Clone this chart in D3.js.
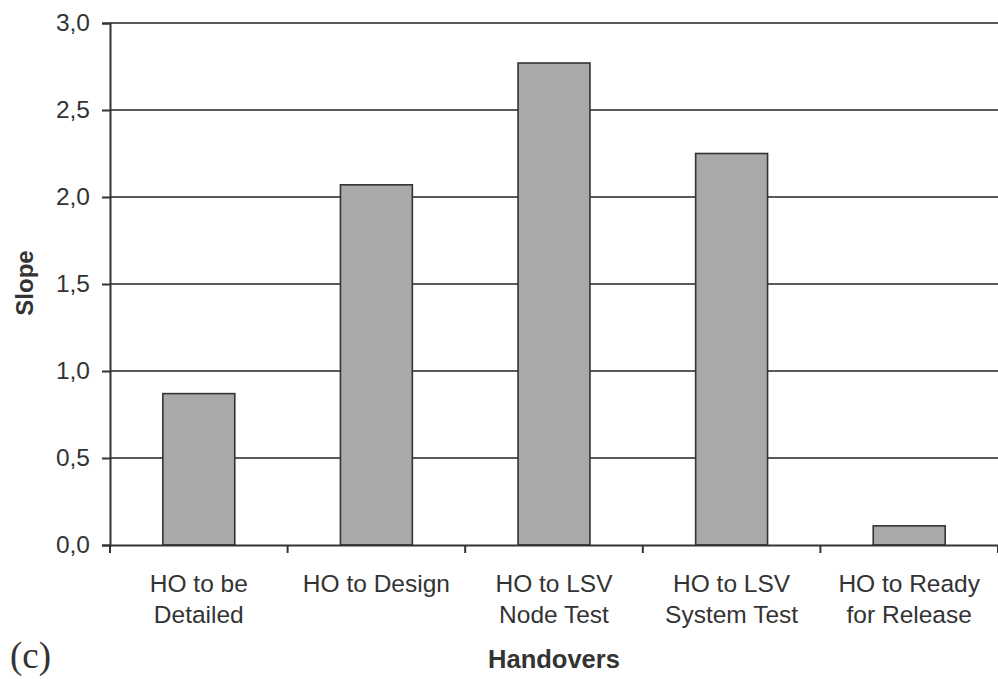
<!DOCTYPE html>
<html lang="en">
<head>
<meta charset="UTF-8">
<title>Slope by handover</title>
<script src="https://cdn.jsdelivr.net/npm/d3@7"></script>
<style>
  html, body { margin: 0; padding: 0; background: #fff; }
  svg { display: block; font-family: "Liberation Sans", Arial, sans-serif; }
</style>
</head>
<body>
<svg id="chart" width="998" height="679"></svg>
<script>
// data
const categories = [
  ["HO to be", "Detailed"],
  ["HO to Design"],
  ["HO to LSV", "Node Test"],
  ["HO to LSV", "System Test"],
  ["HO to Ready", "for Release"]
]
const slopes = [0.87, 2.07, 2.77, 2.25, 0.11]
const yTicks = [0, 0.5, 1.0, 1.5, 2.0, 2.5, 3.0]

const svg = d3.select('#chart')
const m = { left: 110, right: 998, top: 23, bottom: 545 }
const fontSize = 24.5

const keys = categories.map((c, i) => i)
const x = d3.scaleBand().domain(keys).range([m.left, m.right]).padding(0)
const y = d3.scaleLinear().domain([0, 3]).range([m.bottom, m.top])
const barW = x.bandwidth() * 0.405

// grid lines
svg.append('g')
  .selectAll('line')
  .data(yTicks.filter(d => d > 0))
  .join('line')
  .attr('x1', m.left).attr('x2', m.right)
  .attr('y1', d => y(d)).attr('y2', d => y(d))
  .attr('stroke', '#5a5a5a')
  .attr('stroke-width', 2)

// bars
svg.append('g')
  .selectAll('rect')
  .data(slopes)
  .join('rect')
  .attr('x', (d, i) => x(i) + (x.bandwidth() - barW) / 2)
  .attr('y', d => y(d))
  .attr('width', barW)
  .attr('height', d => y(0) - y(d))
  .attr('fill', '#a7a9aa')
  .attr('stroke', '#333')
  .attr('stroke-width', 1.6)

// y axis
const yAxis = svg.append('g')
  .attr('transform', `translate(${m.left},0)`)
  .call(d3.axisLeft(y).tickValues(yTicks).tickSize(8).tickPadding(12)
    .tickFormat(d => d3.format('.1f')(d).replace('.', ',')))
yAxis.select('.domain').attr('stroke', '#333').attr('stroke-width', 2)
yAxis.selectAll('.tick line').attr('stroke', '#333').attr('stroke-width', 2)
yAxis.selectAll('.tick text')
  .attr('font-size', fontSize).attr('fill', '#333')
  .attr('font-family', '"Liberation Sans", Arial, sans-serif')

// x axis
const xAxis = svg.append('g')
  .attr('transform', `translate(0,${m.bottom})`)
  .call(d3.axisBottom(x).tickSize(0).tickFormat(''))
xAxis.select('.domain').attr('stroke', '#333').attr('stroke-width', 2)
xAxis.selectAll('.tick').remove()

// x tick marks at band boundaries
const bounds = keys.map(k => x(k)).concat([m.right])
xAxis.append('g')
  .selectAll('line')
  .data(bounds)
  .join('line')
  .attr('x1', d => d).attr('x2', d => d)
  .attr('y1', 0).attr('y2', 8)
  .attr('stroke', '#333').attr('stroke-width', 2)

// category labels
const lab = svg.append('g')
  .selectAll('text')
  .data(categories)
  .join('text')
  .attr('text-anchor', 'middle')
  .attr('font-size', fontSize)
  .attr('fill', '#333')
  .attr('x', (d, i) => x(i) + x.bandwidth() / 2)
  .attr('y', 592)
lab.selectAll('tspan')
  .data(d => d)
  .join('tspan')
  .attr('x', function () { return this.parentNode.getAttribute('x') })
  .attr('dy', (d, i) => i === 0 ? 0 : 31)
  .text(d => d)

// axis titles
svg.append('text')
  .attr('x', 554).attr('y', 668)
  .attr('text-anchor', 'middle')
  .attr('font-size', 25.5).attr('font-weight', 'bold').attr('fill', '#333')
  .text('Handovers')

svg.append('text')
  .attr('transform', 'translate(33,283) rotate(-90)')
  .attr('text-anchor', 'middle')
  .attr('font-size', 24).attr('font-weight', 'bold').attr('fill', '#333')
  .text('Slope')

svg.append('text')
  .attr('x', 10).attr('y', 668)
  .attr('font-size', 37)
  .attr('font-family', '"Liberation Serif", "Times New Roman", serif')
  .attr('fill', '#333')
  .text('(c)')
</script>
</body>
</html>
